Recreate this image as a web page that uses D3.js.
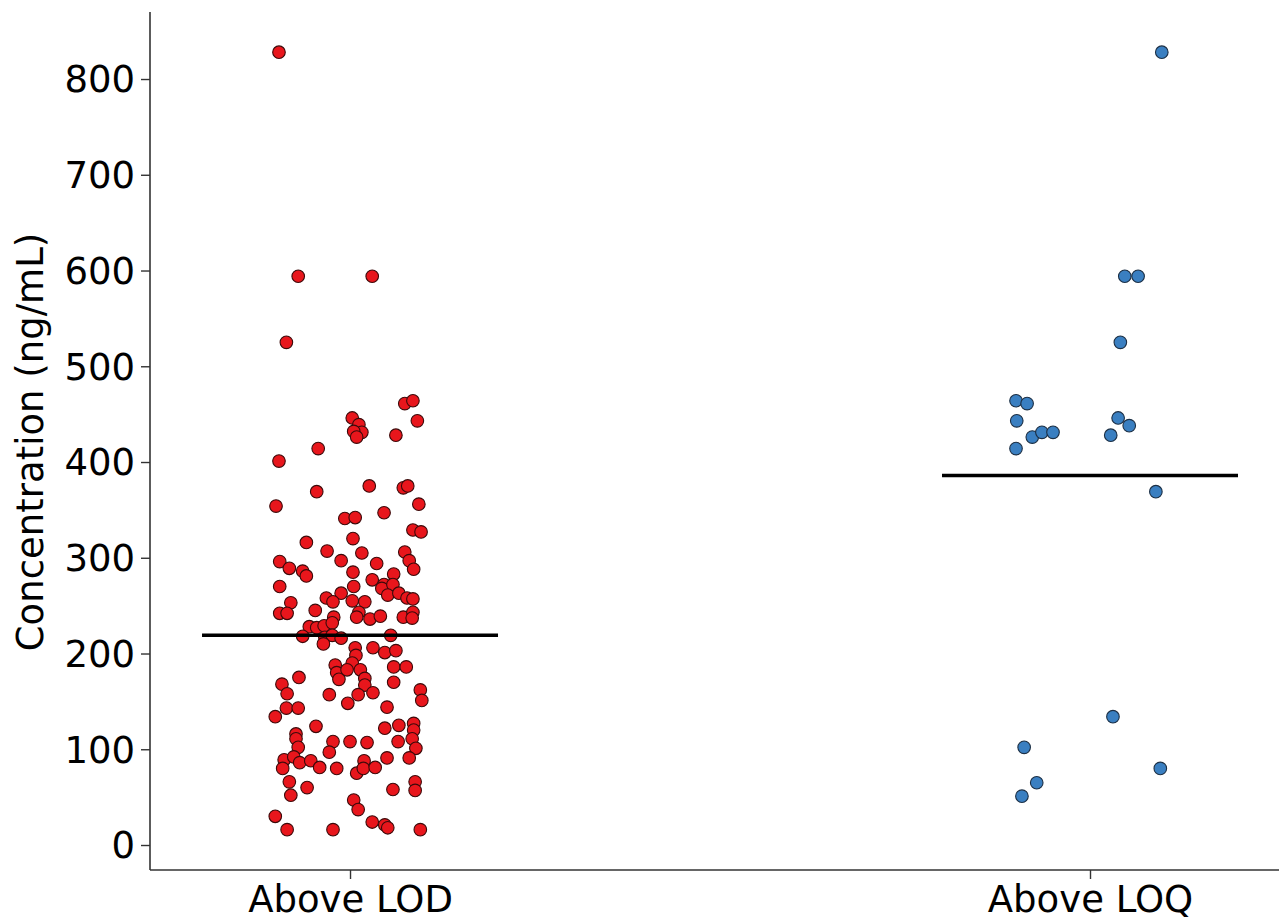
<!DOCTYPE html>
<html>
<head>
<meta charset="utf-8">
<script src="https://cdn.jsdelivr.net/npm/d3@7"></script>
<style>
  html, body { margin: 0; padding: 0; background: #fff; }
  svg text { font-family: "DejaVu Sans", sans-serif; fill: #000; }
</style>
</head>
<body>
<svg id="chart" width="1279" height="920"></svg>
<script>
// ---------- data ----------
const categories = ["Above LOD", "Above LOQ"];
const yTicks = [0, 100, 200, 300, 400, 500, 600, 700, 800];
const yLabel = "Concentration (ng/mL)";

// Above LOD: values (ng/mL) and horizontal jitter (category units)
const lodValues = [828,594,594,525,461,464,443,446,439,431,432,426,428,414,401,369,375,373,375,354,356,341,342,347,329,327,
  316,320,307,305,306,297,288,296,289,297,294,286,281,285,283,277,272,268,272,261,263,258,257,270,270,263,258,254,255,254,253,
  242,242,245,243,238,236,239,238,243,237,238,228,227,229,232,218,217,219,216,219,210,206,198,206,201,203,
  188,180,173,190,183,183,174,167,159,186,186,170,162,151,168,158,175,157,157,148,143,143,134,144,124,122,125,127,120,
  116,111,102,108,97,108,107,108,111,101,89,80,92,86,88,81,80,88,75,80,81,91,91,66,60,52,58,66,57,47,37,30,16,16,24,21,18,16];
const lodJitter = [-0.096,-0.070,0.030,-0.086,0.074,0.085,0.091,0.003,0.012,0.016,0.005,0.009,0.062,-0.043,-0.096,-0.045,0.026,0.072,0.078,-0.100,0.093,-0.007,0.007,0.046,0.085,0.096,
  -0.059,0.004,-0.031,0.016,0.074,0.080,0.086,-0.095,-0.082,-0.012,0.036,-0.064,-0.059,0.004,0.059,0.030,0.046,0.043,0.058,0.051,0.066,0.077,0.085,-0.095,0.005,-0.012,-0.032,-0.023,0.003,0.020,-0.080,
  -0.095,-0.085,-0.047,0.012,0.009,0.027,0.041,0.072,0.085,0.084,-0.022,-0.055,-0.045,-0.035,-0.024,-0.064,-0.034,-0.024,-0.012,0.055,-0.036,0.007,0.008,0.031,0.047,0.062,
  -0.020,-0.018,-0.015,0.003,-0.004,0.014,0.020,0.020,0.031,0.059,0.076,0.059,0.095,0.097,-0.092,-0.085,-0.069,-0.028,0.011,-0.003,-0.086,-0.070,-0.101,0.050,-0.046,0.047,0.066,0.086,0.086,
  -0.073,-0.073,-0.070,-0.023,-0.028,0.000,0.023,0.065,0.084,0.089,-0.089,-0.091,-0.076,-0.068,-0.053,-0.041,-0.018,0.019,0.009,0.018,0.034,0.050,0.080,-0.082,-0.058,-0.080,0.058,0.088,0.088,0.005,0.011,-0.101,-0.085,-0.023,0.030,0.047,0.051,0.095];

// Above LOQ
const loqValues = [464,461,443,414,426,431,431,446,438,428,369,828,594,594,525,134,102,65,51,80];
const loqJitter = [-0.100,-0.085,-0.099,-0.100,-0.078,-0.065,-0.050,0.038,0.053,0.028,0.089,0.097,0.047,0.065,0.041,0.031,-0.089,-0.072,-0.092,0.095];

// group means (ng/mL), drawn as horizontal bars
const meanValues = [219, 386];
const meanHalfWidth = 0.2; // category units

(function () {
// ---------- layout ----------
const svg = d3.select("#chart");
const mLeft = 150, mRight = 1279, mTop = 12, mBottom = 870;

const x = d3.scaleLinear().domain([-0.2703, 1.2554]).range([mLeft, mRight]);
const y = d3.scaleLinear().domain([-26.1, 870]).range([mBottom, mTop]);

const colors = ["#e8161c", "#3a7fc1"];
const strokes = ["#3b0a0a", "#1c2f44"];

// ---------- axes ----------
const yAxis = d3.axisLeft(y).tickValues(yTicks).tickSize(9).tickPadding(6).tickSizeOuter(0);
const gy = svg.append("g").attr("transform", `translate(${mLeft},0)`).call(yAxis);
gy.select(".domain").remove();
gy.append("line").attr("x1", 0).attr("x2", 0).attr("y1", mTop).attr("y2", mBottom)
  .attr("stroke", "#333").attr("stroke-width", 1.6);
gy.selectAll(".tick line").attr("stroke", "#333").attr("stroke-width", 1.4);
gy.selectAll(".tick text").style("font-size", "37px").attr("dy", "0.35em");

const xAxis = d3.axisBottom(x).tickValues([0, 1]).tickFormat(i => categories[i]).tickSize(9).tickPadding(7).tickSizeOuter(0);
const gx = svg.append("g").attr("transform", `translate(0,${mBottom})`).call(xAxis);
gx.select(".domain").remove();
gx.append("line").attr("x1", mLeft).attr("x2", mRight).attr("y1", 0).attr("y2", 0)
  .attr("stroke", "#333").attr("stroke-width", 1.6);
gx.selectAll(".tick line").attr("stroke", "#333").attr("stroke-width", 1.4);
gx.selectAll(".tick text").style("font-size", "37px").attr("dy", "0.71em");

svg.append("text")
  .attr("transform", `translate(43,${(y(0) + y(800)) / 2 - 20}) rotate(-90)`)
  .attr("text-anchor", "middle")
  .style("font-size", "37px")
  .text(yLabel);

// ---------- points ----------
const groups = [
  {vals: lodValues, jit: lodJitter},
  {vals: loqValues, jit: loqJitter}
];
groups.forEach((g, gi) => {
  svg.append("g").selectAll("circle")
    .data(g.vals.map((v, i) => ({v, j: g.jit[i]})))
    .join("circle")
    .attr("cx", d => x(gi + d.j))
    .attr("cy", d => y(d.v))
    .attr("r", 6.3)
    .attr("fill", colors[gi])
    .attr("stroke", strokes[gi])
    .attr("stroke-width", 1.1);
});

// ---------- mean lines ----------
svg.append("g").selectAll("line")
  .data(meanValues)
  .join("line")
  .attr("x1", (m, i) => x(i - meanHalfWidth))
  .attr("x2", (m, i) => x(i + meanHalfWidth))
  .attr("y1", m => y(m))
  .attr("y2", m => y(m))
  .attr("stroke", "#000")
  .attr("stroke-width", 3.5);
})();
</script>
</body>
</html>
